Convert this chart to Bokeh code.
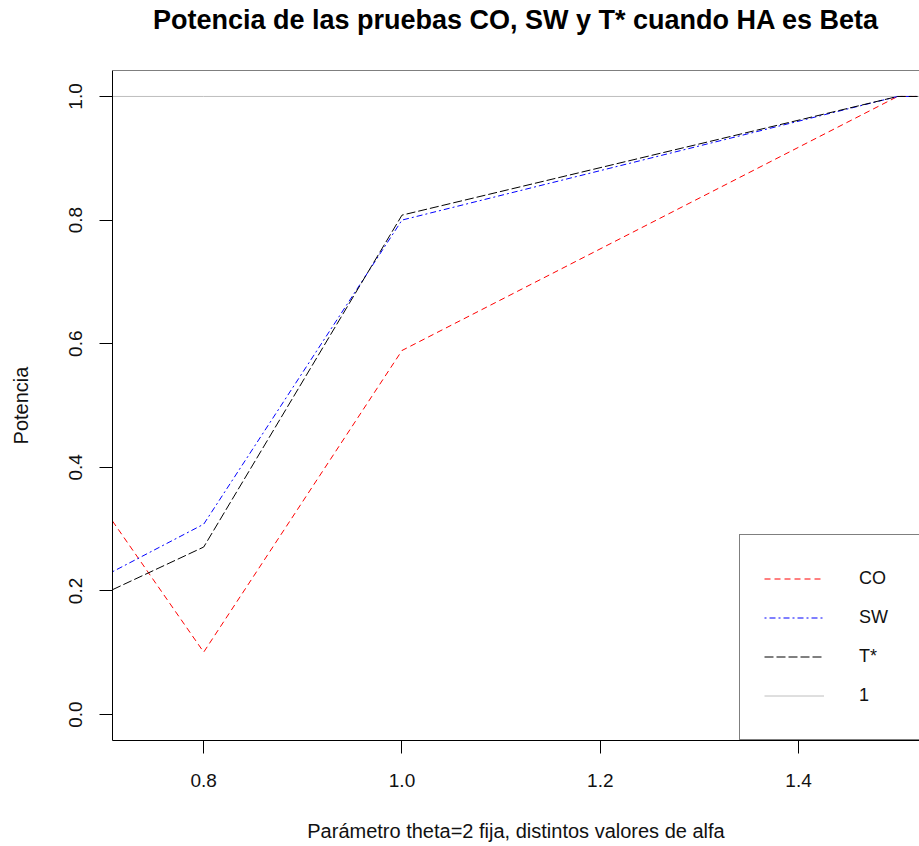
from bokeh.plotting import figure
from bokeh.models import Range1d, Span, Legend, LegendItem, FixedTicker, CustomJSTickFormatter, Title
from bokeh.embed import file_html
from bokeh.resources import INLINE

# ---- data ----
alpha = [0.708, 0.8, 1.0, 1.5, 1.6]
co = [0.313, 0.101, 0.589, 1.0, 1.0]
sw = [0.231, 0.308, 0.800, 1.0, 1.0]
tstar = [0.202, 0.271, 0.808, 1.0, 1.0]
ref_level = 1.0
series_names = ["CO", "SW", "T*", "1"]
x_ticks = [0.8, 1.0, 1.2, 1.4]
y_ticks = [0.0, 0.2, 0.4, 0.6, 0.8, 1.0]
title_text = "Potencia de las pruebas CO, SW y T* cuando HA es Beta"

FONT = "Liberation Sans"

p = figure(width=919, height=846, output_backend="svg", toolbar_location=None,
           x_range=Range1d(alpha[0], 1.522), y_range=Range1d(-0.042, 1.042),
           min_border_left=112, min_border_right=0, min_border_top=70,
           min_border_bottom=106)

p.background_fill_color = "white"
p.border_fill_color = "white"
p.outline_line_color = None
p.grid.visible = False

# spacer between plot box and title (closest to the frame)
p.add_layout(Title(text=" ", text_font=FONT, text_font_size="1px", standoff=31), "above")
# main title
p.add_layout(Title(text=title_text, text_font=FONT, text_font_size="27px",
                   text_font_style="bold", text_color="black", align="center",
                   vertical_align="top", offset=4, standoff=0), "above")

for ax in (p.xaxis[0], p.yaxis[0]):
    ax.axis_line_color = "black"
    ax.axis_line_width = 1
    ax.major_tick_line_color = "black"
    ax.major_tick_out = 13
    ax.major_tick_in = 0
    ax.minor_tick_line_color = None
    ax.major_label_text_font = FONT
    ax.major_label_text_font_size = "19px"
    ax.major_label_text_color = "#111111"
    ax.axis_label_text_font = FONT
    ax.axis_label_text_font_size = "20px"
    ax.axis_label_text_font_style = "normal"
    ax.axis_label_text_color = "#111111"
    ax.formatter = CustomJSTickFormatter(code="return tick.toFixed(1);")

p.xaxis[0].ticker = FixedTicker(ticks=x_ticks)
p.yaxis[0].ticker = FixedTicker(ticks=y_ticks)
p.xaxis[0].axis_label = "Parámetro theta=2 fija, distintos valores de alfa"
p.yaxis[0].axis_label = "Potencia"
p.xaxis[0].major_label_standoff = 20
p.yaxis[0].major_label_standoff = 17
p.xaxis[0].axis_label_standoff = 30
p.yaxis[0].axis_label_standoff = 35
p.yaxis[0].major_label_orientation = "vertical"

# top border of the box
p.add_layout(Span(location=p.y_range.end, dimension="width",
                  line_color="black", line_width=1))

# horizontal reference line (abline h=1)
r_ref = p.line(alpha, [ref_level] * len(alpha), line_color="#BEBEBE", line_width=1)

r_co = p.line(alpha, co, line_color="#FF0000", line_width=1, line_dash="6 4")
r_sw = p.line(alpha, sw, line_color="#0000FF", line_width=1, line_dash="2 3 6 3")
r_t = p.line(alpha, tstar, line_color="#000000", line_width=1, line_dash="9 3")

legend = Legend(items=[LegendItem(label=series_names[0], renderers=[r_co], index=0),
                       LegendItem(label=series_names[1], renderers=[r_sw], index=0),
                       LegendItem(label=series_names[2], renderers=[r_t], index=0),
                       LegendItem(label=series_names[3], renderers=[r_ref], index=0)],
                location=(627, 0))
legend.margin = 0
legend.padding = 24
legend.spacing = 0
legend.glyph_width = 60
legend.glyph_height = 39
legend.label_height = 39
legend.label_width = 250
legend.label_standoff = 35
legend.label_text_font = FONT
legend.label_text_font_size = "18px"
legend.label_text_color = "#111111"
legend.border_line_color = "black"
legend.border_line_width = 1
legend.background_fill_color = "white"
legend.background_fill_alpha = 1.0
p.add_layout(legend, "center")

open("out.html", "w").write(file_html(p, INLINE))
